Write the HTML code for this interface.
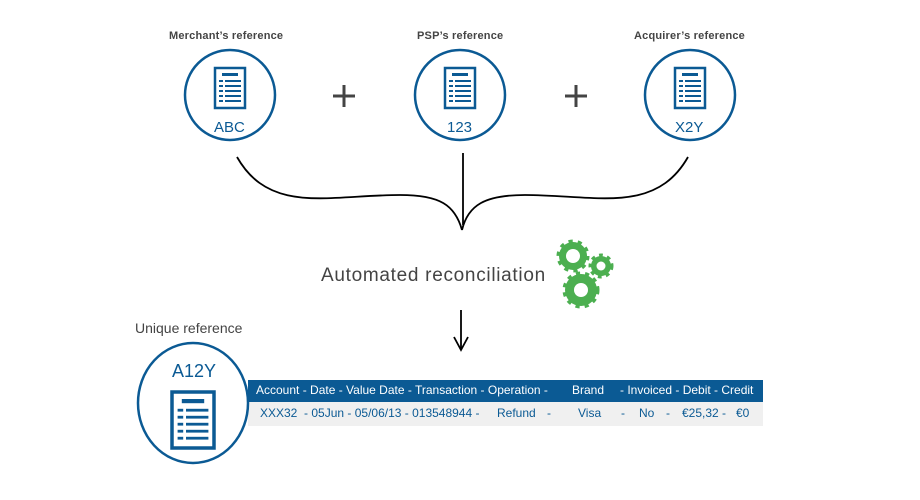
<!DOCTYPE html>
<html><head><style>
body{margin:0;width:920px;height:500px;background:#fff;font-family:"Liberation Sans",sans-serif;position:relative;overflow:hidden}
.t{position:absolute;white-space:nowrap}
.h{position:absolute;white-space:nowrap;top:383px;font-size:12px;color:#fff}
.r{position:absolute;white-space:nowrap;top:406px;font-size:12px;color:#0b5a94}
</style></head><body>
<svg width="920" height="500" style="position:absolute;left:0;top:0">
<defs>
<g id="doc"><rect x="-15" y="-20" width="30" height="40" fill="none" stroke="#0b5a94" stroke-width="2.5"/>
<rect x="-8" y="-15" width="16" height="3" fill="#0b5a94"/>
<g fill="#0b5a94"><rect x="-11" y="-8" width="4" height="2"/><rect x="-5" y="-8" width="16" height="2"/>
<rect x="-11" y="-3" width="4" height="2"/><rect x="-5" y="-3" width="16" height="2"/>
<rect x="-11" y="2" width="4" height="2"/><rect x="-5" y="2" width="16" height="2"/>
<rect x="-11" y="7" width="4" height="2"/><rect x="-5" y="7" width="16" height="2"/>
<rect x="-11" y="12" width="4" height="2"/><rect x="-5" y="12" width="16" height="2"/></g></g>
</defs>
<g fill="none" stroke="#0b5a94" stroke-width="2.5">
<circle cx="230" cy="95" r="45"/><circle cx="460" cy="95" r="45"/><circle cx="690" cy="95" r="45"/>
</g>
<use href="#doc" x="230" y="88"/><use href="#doc" x="460" y="88"/><use href="#doc" x="690" y="88"/>
<g stroke="#444" stroke-width="3"><line x1="333" y1="96" x2="355" y2="96"/><line x1="344" y1="85" x2="344" y2="107"/>
<line x1="565" y1="96" x2="587" y2="96"/><line x1="576" y1="85" x2="576" y2="107"/></g>
<g fill="none" stroke="#000" stroke-width="1.8">
<path d="M237 157 C270 215 330 195 400 195 C440 195 455 205 462 230"/>
<path d="M688 157 C655 215 595 195 525 195 C485 195 468 205 462 230"/>
<line x1="463" y1="153" x2="463" y2="225"/>
<line x1="461" y1="310" x2="461" y2="350"/>
<path d="M454 337 L461 350 L468 337"/>
</g>
<g fill="#4caf50">
<circle cx="573" cy="256" r="14"/><circle cx="601" cy="266" r="10"/><circle cx="581" cy="290" r="16"/>
<g stroke="#4caf50" stroke-width="5" stroke-dasharray="4 4.8">
<circle cx="573" cy="256" r="14" fill="none"/><circle cx="601" cy="266" r="10" fill="none" stroke-dasharray="3.5 4"/><circle cx="581" cy="290" r="16" fill="none"/></g>
</g>
<g fill="#fff"><circle cx="573" cy="256" r="7"/><circle cx="601" cy="266" r="4.5"/><circle cx="581" cy="290" r="7"/></g>
<rect x="248" y="380" width="515" height="22" fill="#0b5a94"/>
<rect x="248" y="402" width="515" height="24" fill="#f0f0f0"/>
<ellipse cx="193" cy="403" rx="55" ry="60" fill="#fff" stroke="#0b5a94" stroke-width="2.5"/>
<g transform="translate(193,420) scale(1.4)"><use href="#doc"/></g>
</svg>
<div class="t" style="left:169px;top:30px;font-size:11px;color:#444;font-weight:bold;letter-spacing:0.2px">Merchant’s reference</div>
<div class="t" style="left:417px;top:30px;font-size:11px;color:#444;font-weight:bold;letter-spacing:0.2px">PSP’s reference</div>
<div class="t" style="left:634px;top:30px;font-size:11px;color:#444;font-weight:bold;letter-spacing:0.2px">Acquirer’s reference</div>
<div class="t" style="left:214px;top:119px;font-size:15px;color:#0b5a94">ABC</div>
<div class="t" style="left:447px;top:119px;font-size:15px;color:#0b5a94">123</div>
<div class="t" style="left:675px;top:119px;font-size:15px;color:#0b5a94">X2Y</div>
<div class="t" style="left:321px;top:265px;font-size:19px;color:#444;letter-spacing:0.7px">Automated reconciliation</div>
<div class="t" style="left:135px;top:320px;font-size:14px;color:#444">Unique reference</div>
<div class="t" style="left:172px;top:361px;font-size:18px;color:#0b5a94">A12Y</div>
<div class="h" style="left:256px">Account - Date - Value Date - Transaction - Operation -</div>
<div class="h" style="left:572px">Brand</div>
<div class="h" style="left:620px">- Invoiced - Debit - Credit</div>
<div class="r" style="left:260px">XXX32 &nbsp;- 05Jun - 05/06/13 - 013548944 -</div>
<div class="r" style="left:497px">Refund</div>
<div class="r" style="left:547px">-</div>
<div class="r" style="left:578px">Visa</div>
<div class="r" style="left:621px">-</div>
<div class="r" style="left:639px">No</div>
<div class="r" style="left:666px">-</div>
<div class="r" style="left:682px">€25,32 -</div>
<div class="r" style="left:736px">€0</div>
</body></html>
